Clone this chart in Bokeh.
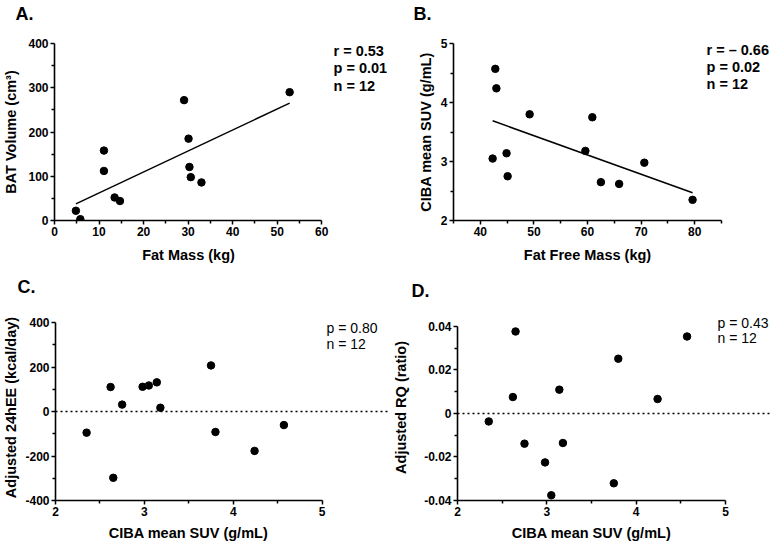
from bokeh.plotting import figure
from bokeh.layouts import column, row
from bokeh.models import Range1d, FixedTicker, Span, Label
from bokeh.embed import file_html
from bokeh.resources import INLINE
import numpy as np

# ---- data ----
fat_mass = [4.8, 5.8, 11.1, 11.1, 13.5, 14.7, 29.1, 30.1, 30.3, 30.6, 33.0, 52.8]
bat_volume = [22, 3, 158, 112, 52, 44, 272, 185, 121, 98, 86, 290]

suv = [2.35, 2.62, 2.65, 2.75, 2.98, 3.05, 3.14, 3.18, 3.75, 3.80, 4.24, 4.57]
fat_free_mass = [79.6, 65.9, 62.5, 45.1, 70.6, 42.3, 44.9, 59.6, 60.9, 49.2, 43.0, 42.8]
adj_24hee = [-95, 110, -298, 31, 111, 117, 131, 17, 207, -92, -177, -61]
adj_rq = [-0.0037, 0.0075, 0.0376, -0.0139, -0.0225, -0.0376, 0.0109, -0.0136,
          -0.0321, 0.0251, 0.0066, 0.0353]

# ticks
a_xticks = [0, 10, 20, 30, 40, 50, 60]
a_xminor = [5, 15, 25, 35, 45, 55]
a_yticks = [0, 100, 200, 300, 400]
a_yminor = [50, 150, 250, 350]
b_xticks = [40, 50, 60, 70, 80]
b_xminor = [35, 45, 55, 65, 75, 85]
b_yticks = [2, 3, 4, 5]
b_yminor = [2.5, 3.5, 4.5]
suv_ticks = [2, 3, 4, 5]
suv_minor = [2.5, 3.5, 4.5]
c_yticks = [-400, -200, 0, 200, 400]
c_ylabels = ["-400", "-200", "0", "200", "400"]
c_yminor = [-300, -100, 100, 300]
d_yticks = [-0.04, -0.02, 0, 0.02, 0.04]
d_ylabels = ["-0.04", "-0.02", "0", "0.02", "0.04"]
d_yminor = [-0.03, -0.01, 0.01, 0.03]

FONT = "Liberation Sans"
TITLE_SIZE = "14.5px"


def label(p, x, y, text, size, bold=True, place=None, align="left"):
    lab = Label(x=x, y=y, x_units="screen", y_units="screen", text=text,
                text_font=FONT, text_font_size=size,
                text_font_style="bold" if bold else "normal",
                text_color="black", text_baseline="middle", text_align=align)
    if place is None:
        p.add_layout(lab)
    else:
        p.add_layout(lab, place)


def make(width, height, xr, yr, xb, yb, xt, xm, yt, ym, xlabel, ylabel, mb, ystand,
         xlab_x, xlab_y):
    p = figure(width=width, height=height, x_range=Range1d(*xr), y_range=Range1d(*yr),
               output_backend="svg", toolbar_location=None, tools="",
               min_border_left=mb[0], min_border_right=mb[1],
               min_border_top=mb[2], min_border_bottom=mb[3])
    p.outline_line_color = None
    p.grid.visible = False
    p.xaxis.ticker = FixedTicker(ticks=xt, minor_ticks=xm)
    p.yaxis.ticker = FixedTicker(ticks=yt, minor_ticks=ym)
    p.xaxis.bounds = xb
    p.yaxis.bounds = yb
    p.yaxis.axis_label = ylabel
    for ax in (p.xaxis[0], p.yaxis[0]):
        ax.axis_line_width = 1.6
        ax.axis_line_color = "black"
        ax.major_tick_line_width = 1.5
        ax.minor_tick_line_width = 1.5
        ax.major_tick_line_color = "black"
        ax.minor_tick_line_color = "black"
        ax.major_tick_out = 4
        ax.major_tick_in = 0
        ax.minor_tick_out = 3
        ax.minor_tick_in = 0
        ax.major_label_text_font = FONT
        ax.major_label_text_font_style = "bold"
        ax.major_label_text_font_size = "12px"
        ax.major_label_text_color = "black"
        ax.major_label_standoff = 2
        ax.axis_label_text_font = FONT
        ax.axis_label_text_font_style = "bold"
        ax.axis_label_text_font_size = TITLE_SIZE
        ax.axis_label_text_color = "black"
    p.yaxis.axis_label_standoff = ystand
    # x-axis title centred on the axis line (the frame is wider than the axis)
    label(p, xlab_x, xlab_y, xlabel, TITLE_SIZE, place="below", align="center")
    return p


# Panel A
pA = make(390, 270, (0, 75), (0, 400), (0, 60), (0, 400),
          a_xticks, a_xminor, a_yticks, a_yminor,
          "Fat Mass (kg)", "BAT Volume (cm\u00b3)", (53, 2, 43, 50), 6, 134, 0)
pA.scatter(fat_mass, bat_volume, size=7.5, color="black")
ka, ba = np.polyfit(fat_mass, bat_volume, 1)
xa = [min(fat_mass), max(fat_mass)]
pA.line(xa, [ka * v + ba for v in xa], line_color="black", line_width=1.5)
label(pA, -39, 30, "A.", "18px", place="above")
for i, t in enumerate(["r = 0.53", "p = 0.01", "n = 12"]):
    label(pA, 279, 170 - 17.5 * i, t, "14.5px")

# Panel B
pB = make(382, 270, (35, 94.14), (2, 5), (35, 85), (2, 5),
          b_xticks, b_xminor, b_yticks, b_yminor,
          "Fat Free Mass (kg)", "CIBA mean SUV (g/mL)", (63, 2, 43, 50), 4, 134, 0)
pB.scatter(fat_free_mass, suv, size=7.5, color="black")
kb, bb = np.polyfit(fat_free_mass, suv, 1)
xb = [min(fat_free_mass), max(fat_free_mass)]
pB.line(xb, [kb * v + bb for v in xb], line_color="black", line_width=1.5)
label(pB, -40, 30, "B.", "18px", place="above")
for i, t in enumerate(["r = \u2013 0.66", "p = 0.02", "n = 12"]):
    label(pB, 253, 171 - 17 * i, t, "14.5px")

# Panel C
pC = make(390, 274, (2, 5.747), (-400, 436), (2, 5), (-400, 400),
          suv_ticks, suv_minor, c_yticks, c_yminor,
          "CIBA mean SUV (g/mL)", "Adjusted 24hEE (kcal/day)", (52, 2, 44, 44), 3, 133, 2)
pC.yaxis.major_label_overrides = dict(zip(c_yticks, c_ylabels))
pC.add_layout(Span(location=0, dimension="width", line_color="black",
                   line_width=1.5, line_dash="2 3"))
pC.scatter(suv, adj_24hee, size=7.5, color="black")
label(pC, -38, 28, "C.", "18px", place="above")
for i, t in enumerate(["p = 0.80", "n = 12"]):
    label(pC, 271, 173 - 16 * i, t, "14px", bold=False)

# Panel D
pD = make(382, 274, (2, 5.504), (-0.04, 0.0454), (2, 5), (-0.04, 0.04),
          suv_ticks, suv_minor, d_yticks, d_yminor,
          "CIBA mean SUV (g/mL)", "Adjusted RQ (ratio)", (67, 2, 40, 44), 12, 134, 2)
pD.yaxis.major_label_overrides = dict(zip(d_yticks, d_ylabels))
pD.add_layout(Span(location=0, dimension="width", line_color="black",
                   line_width=1.5, line_dash="2 3"))
pD.scatter(suv, adj_rq, size=7.5, color="black")
label(pD, -46, 24, "D.", "18px", place="above")
for i, t in enumerate(["p = 0.43", "n = 12"]):
    label(pD, 260, 178 - 15 * i, t, "14px", bold=False)

layout = column(row(pA, pB), row(pC, pD))
open("out.html", "w").write(file_html(layout, INLINE))
